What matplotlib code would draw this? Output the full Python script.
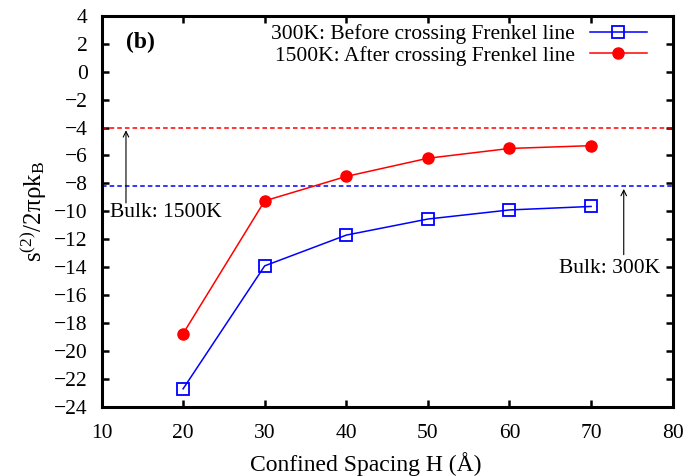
import matplotlib
matplotlib.use("Agg")
import matplotlib.pyplot as plt

plt.rcParams['font.family'] = ['Liberation Serif', 'DejaVu Serif']
plt.rcParams['mathtext.fontset'] = 'custom'
plt.rcParams['mathtext.rm'] = 'Liberation Serif'
plt.rcParams['mathtext.it'] = 'Liberation Serif'

H = [20, 30, 40, 50, 60, 70]
s2_300 = [-22.7, -13.9, -11.7, -10.55, -9.9, -9.65]
s2_1500 = [-18.75, -9.25, -7.5, -6.2, -5.5, -5.3]
bulk_300 = -8.2
bulk_1500 = -4.0

fig = plt.figure(figsize=(7, 4.76), dpi=100)
ax = fig.add_axes([0.145, 0.145, 0.816, 0.822])

ax.axhline(bulk_1500, color='red', ls=(0, (3, 2)), lw=1.1)
ax.axhline(bulk_300, color='blue', ls=(0, (3, 2)), lw=1.1)

ax.plot(H, s2_300, color='blue', lw=1.1, marker='s', ms=8, mfc='none',
        mec='blue', mew=1.3, label='300K: Before crossing Frenkel line')
ax.plot(H, s2_1500, color='red', lw=1.1, marker='o', ms=8,
        label='1500K: After crossing Frenkel line')

ax.annotate('', xy=(13, bulk_1500), xytext=(13, -9.6),
            arrowprops=dict(arrowstyle='->', color='black', lw=0.8))
ax.text(11.1, -10.1, 'Bulk: 1500K', fontsize=15.5, va='center', ha='left')
ax.annotate('', xy=(74, bulk_300), xytext=(74, -13.3),
            arrowprops=dict(arrowstyle='->', color='black', lw=0.8))
ax.text(72.3, -14.1, 'Bulk: 300K', fontsize=15.5, va='center', ha='center')

ax.text(13, 2.1, '(b)', fontsize=17, fontweight='bold', va='center')

ax.set_xlim(10, 80)
ax.set_ylim(-24, 4)
ax.set_xticks(range(10, 81, 10))
ax.set_yticks(range(-24, 5, 2))
ax.set_yticklabels([str(v).replace('-', '\u2212') for v in range(-24, 5, 2)])
ax.tick_params(direction='in', top=True, right=True, labelsize=15.5,
               width=1.8, length=5)
ax.tick_params(axis='x', pad=12)
ax.tick_params(axis='y', pad=10)
for sp in ax.spines.values():
    sp.set_linewidth(2.2)

ax.set_xlabel('Confined Spacing H (Å)', fontsize=17, labelpad=6)
ax.xaxis.set_label_coords(0.463, -0.115)
ax.set_ylabel(r'$\mathrm{s^{(2)}/2\pi\rho k_B}$', fontsize=18, labelpad=4)

ax.legend(loc='upper right', bbox_to_anchor=(0.97, 1.0), frameon=False,
          markerfirst=False, fontsize=15.5, handlelength=2.65,
          handletextpad=0.7, borderaxespad=0, labelspacing=0.05)

fig.savefig('out.png', dpi=100)
